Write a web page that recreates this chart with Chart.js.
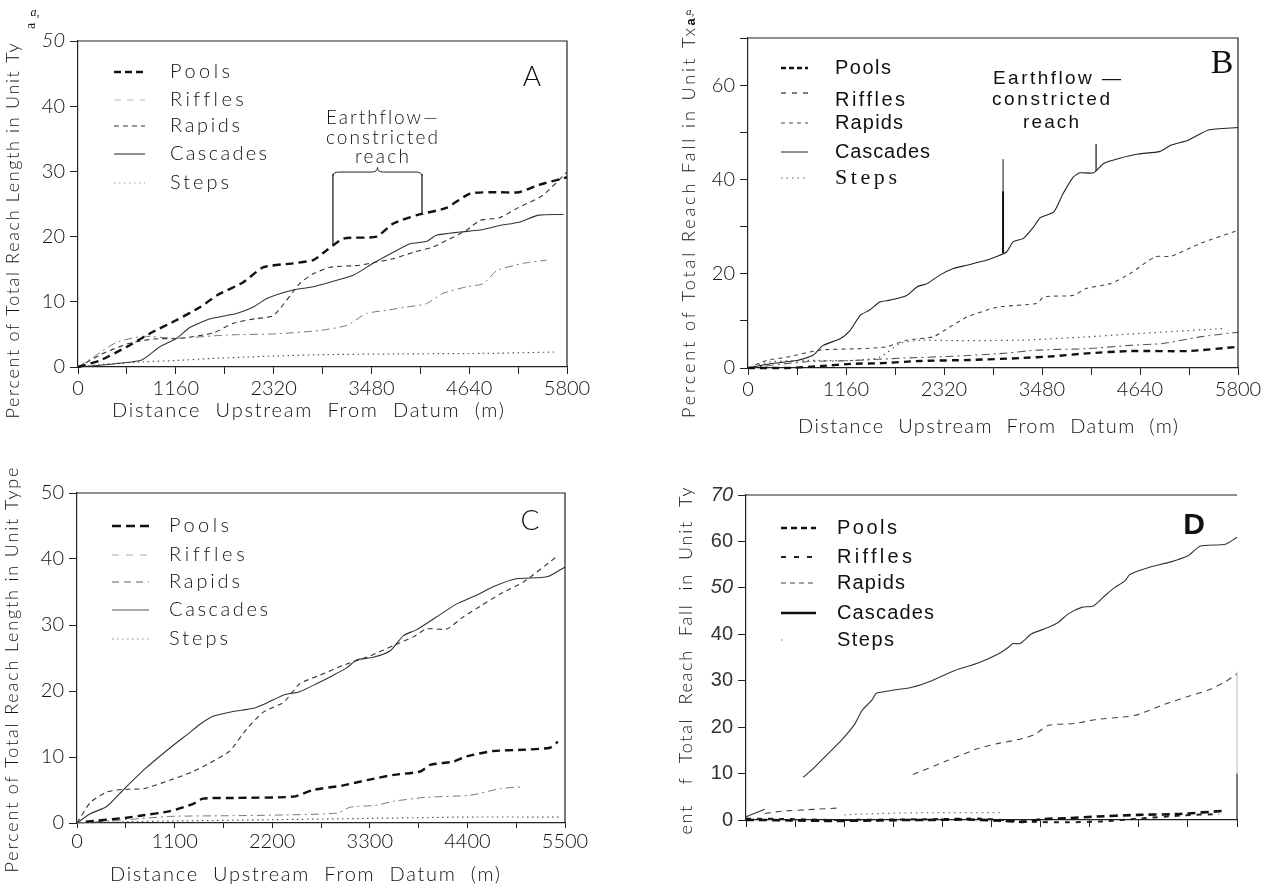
<!DOCTYPE html>
<html><head><meta charset="utf-8">
<script src="https://cdn.jsdelivr.net/npm/chart.js@4.4.0/dist/chart.umd.min.js"></script>
<style>
html,body{margin:0;padding:0;background:#fff;width:1270px;height:888px;overflow:hidden}
canvas{position:absolute}
</style></head><body>
<canvas id="cA" width="630" height="440" style="left:0px;top:0px"></canvas>
<canvas id="cB" width="640" height="440" style="left:630px;top:0px"></canvas>
<canvas id="cC" width="630" height="448" style="left:0px;top:440px"></canvas>
<canvas id="cD" width="640" height="448" style="left:630px;top:440px"></canvas>
<script>
// ---------- DATA ----------
const unitTypes = ['Pools','Riffles','Rapids','Cascades','Steps'];

// Panel A: % of total reach length (x: m upstream, y: %)
const poolsA = [[0,0],[260,1.0],[580,3.1],[890,5.4],[1170,7.2],[1450,9.2],[1650,11.0],[1960,13.0],[2200,15.3],[2550,15.9],[2790,16.4],[2950,17.9],[3150,19.7],[3540,20.0],[3740,22.0],[4020,23.3],[4370,24.4],[4650,26.6],[5000,26.8],[5230,26.8],[5460,27.9],[5800,29.1]];
const rifflesA = [[0,0],[180,1.5],[460,3.8],[770,4.7],[1170,4.4],[1760,4.9],[2360,5.1],[2870,5.6],[3190,6.4],[3420,8.2],[3660,8.7],[3900,9.2],[4130,9.7],[4330,11.3],[4610,12.3],[4810,12.8],[4970,14.8],[5280,15.9],[5560,16.4]];
const rapidsA = [[0,0],[300,2.1],[600,3.6],[900,4.3],[1210,4.4],[1600,5.2],[1840,6.7],[2100,7.4],[2320,7.9],[2630,12.8],[2790,14.3],[2990,15.3],[3340,15.6],[3540,16.1],[3740,16.6],[3980,17.6],[4210,18.4],[4370,19.4],[4610,21.0],[4770,22.5],[5000,22.9],[5230,24.5],[5510,26.3],[5800,29.9]];
const cascadesA = [[0,0],[740,1.0],[970,3.1],[1170,4.4],[1330,6.1],[1570,7.4],[1880,8.2],[2080,9.2],[2240,10.5],[2550,11.8],[2790,12.3],[3070,13.3],[3270,14.1],[3500,15.9],[3740,17.6],[3940,18.9],[4140,19.3],[4250,20.2],[4530,20.7],[4770,21.0],[5000,21.7],[5230,22.2],[5460,23.3],[5760,23.4]];
const stepsA = [[0,0],[380,0.5],[780,0.8],[1170,1.0],[1570,1.3],[1960,1.5],[2360,1.7],[2950,1.9],[3740,2.0],[4930,2.1],[5650,2.3]];

// Panel B: % of total reach fall
const poolsB = [[0,0],[460,0],[850,0.4],[1250,0.9],[1560,1.0],[2040,1.5],[2630,1.7],[3220,2.1],[3620,2.5],[4010,3.1],[4520,3.6],[5210,3.6],[5800,4.5]];
const rifflesB = [[0,0],[660,1.3],[1250,1.6],[1840,2.1],[2430,2.5],[3020,3.1],[3420,3.8],[4010,4.1],[4520,4.8],[4910,5.2],[5350,6.6],[5800,7.6]];
const rapidsB = [[0,0],[220,1.6],[460,2.3],[850,3.8],[1330,4.1],[1640,4.5],[1880,5.9],[2190,6.6],[2390,8.7],[2590,10.8],[2830,12.3],[2980,13.0],[3420,13.7],[3500,15.1],[3850,15.4],[4010,16.9],[4290,17.9],[4520,20.0],[4820,23.6],[5010,23.7],[5350,26.4],[5800,29.2]];
const cascadesB = [[0,0],[260,0.9],[580,1.6],[770,2.7],[890,4.8],[1090,6.2],[1210,8.0],[1330,11.2],[1440,12.3],[1560,14.0],[1680,14.4],[1880,15.4],[2000,17.2],[2120,17.9],[2270,19.7],[2430,21.1],[2590,21.8],[2830,22.9],[2950,23.7],[3060,24.6],[3140,26.8],[3260,27.5],[3380,29.9],[3460,31.9],[3620,33.1],[3730,37.0],[3850,40.5],[3930,41.4],[4090,41.4],[4210,43.4],[4400,44.5],[4620,45.4],[4870,45.9],[5010,47.3],[5210,48.3],[5450,50.5],[5800,51.0]];
const stepsB = [[0,0],[260,1.3],[660,1.6],[1250,1.6],[1560,2.3],[1800,5.2],[2040,5.9],[2430,5.8],[3220,5.9],[4010,6.6],[4520,7.2],[5650,8.4]];

// Panel C: % of total reach length
const poolsC = [[100,0.2],[560,0.8],[710,1.1],[1050,1.8],[1310,2.9],[1420,3.7],[1800,3.8],[2440,4.0],[2660,5.0],[3000,5.7],[3270,6.5],[3570,7.3],[3870,7.8],[3980,8.8],[4240,9.3],[4390,10.1],[4690,10.9],[5030,11.1],[5330,11.4],[5420,12.3]];
const rifflesC = [[0,0],[560,0.5],[1050,1.0],[1690,1.1],[2250,1.2],[2930,1.5],[3080,2.4],[3380,2.7],[3570,3.3],[3940,3.9],[4430,4.2],[4770,5.2],[5030,5.5]];
const rapidsC = [[0,0],[150,3.1],[335,4.7],[520,5.1],[750,5.2],[1050,6.5],[1310,7.8],[1500,9.1],[1720,10.9],[1910,14.2],[2100,16.8],[2330,18.3],[2510,21.1],[2740,22.4],[3000,23.9],[3300,25.3],[3570,26.9],[3790,28.2],[3940,29.4],[4170,29.4],[4350,31.2],[4540,32.8],[4770,34.7],[5030,36.5],[5420,40.5]];
const cascadesC = [[0,0],[150,1.4],[335,2.5],[520,5.0],[750,8.0],[1050,11.4],[1270,13.7],[1390,15.0],[1540,16.2],[1760,16.9],[1990,17.4],[2140,18.2],[2330,19.4],[2510,19.9],[2700,21.1],[2890,22.4],[3040,23.5],[3150,24.7],[3340,25.1],[3530,26.1],[3680,28.4],[3830,29.3],[4050,31.2],[4280,33.2],[4500,34.5],[4690,35.8],[4950,37.0],[5300,37.3],[5500,38.8]];
const stepsC = [[0,0],[600,0.2],[1100,0.3],[2200,0.5],[3300,0.7],[4400,0.9],[5450,0.9]];

// Panel D: % of total reach fall (null = break in the trace)
const poolsD = [[0,0],[500,-0.1],[1000,-0.2],[1500,-0.1],[2000,0],[2500,0.1],[2900,-0.2],[3100,-0.4],[3330,0.2],[3600,0.4],[3880,0.7],[4390,1.1],[4860,1.3],[5370,2.0]];
const rifflesD = [[0,0.3],[500,0.2],[1000,0],[1600,0.1],[2200,0.2],[2600,0.3],[2900,0],[3200,-0.4],[3600,-0.5],[4000,-0.3],[4400,0.3],[4900,1.0],[5300,1.3]];
const rapidsD = [[210,1.4],[400,1.9],[770,2.3],[1050,2.6],[1060,null],[1870,9.8],[2270,12.9],[2600,15.4],[2830,16.5],[3090,17.5],[3240,18.5],[3390,20.4],[3690,20.8],[3910,21.6],[4280,22.3],[4390,22.7],[4715,25.1],[4950,26.6],[5180,28.0],[5365,29.7],[5500,31.5]];
const cascadesD = [[0,0.7],[210,2.3],[220,null],[640,9.2],[770,11.4],[920,14.3],[1070,17.2],[1220,20.7],[1300,23.6],[1410,25.8],[1460,27.3],[1630,27.9],[1860,28.6],[2080,30.0],[2340,32.2],[2600,33.8],[2830,35.8],[2940,37.2],[2990,38.0],[3070,38.0],[3200,40.1],[3390,41.5],[3500,42.6],[3610,44.4],[3760,45.8],[3890,46.1],[4020,48.3],[4130,50.1],[4245,51.5],[4300,52.9],[4530,54.5],[4760,55.6],[4950,56.9],[5090,59.0],[5370,59.4],[5500,60.9]];
const stepsD = [[1100,1.1],[1500,1.4],[2100,1.6],[2850,1.6]];

// Ticks
const xTicks5800 = [0,580,1160,1740,2320,2900,3480,4060,4640,5220,5800];
const xLabels5800 = [0,1160,2320,3480,4640,5800];
const xTicks5500 = [0,550,1100,1650,2200,2750,3300,3850,4400,4950,5500];
const xLabels5500 = [0,1100,2200,3300,4400,5500];
const yTicks50 = [0,10,20,30,40,50];
const yTicks70 = [0,10,20,30,40,50,60,70];
const yLabelsB = [0,20,40,60];

// ---------- DRAWING ----------
const THIN = "Lato, 'DejaVu Sans', sans-serif";
const ARIAL = "'Liberation Sans', Arial, sans-serif";
const SERIF = "'Liberation Serif', 'Times New Roman', serif";
const INK = '#111';

function fitText(ctx, t, x, y, w, font, rot, color, align) {
  ctx.save();
  ctx.font = font;
  ctx.fillStyle = color || INK;
  try { ctx.letterSpacing = '0px'; } catch(e) {}
  const w0 = ctx.measureText(t).width;
  let ls = 0;
  if (w && t.length > 1) ls = (w - w0) / (t.length - 1);
  try { ctx.letterSpacing = ls + 'px'; } catch(e) {}
  ctx.translate(x, y);
  if (rot) ctx.rotate(rot);
  ctx.textBaseline = 'middle';
  ctx.textAlign = 'left';
  const tw = w ? w : w0;
  const sx = align === 'left' ? 0 : -tw / 2;
  ctx.fillText(t, sx, 0);
  ctx.restore();
}

const deco = {
  id: 'deco',
  afterDraw(chart, args, o) {
    const ctx = chart.ctx, ca = chart.chartArea;
    const xs = chart.scales.x, ys = chart.scales.y;
    const ox = o.ox, oy = o.oy;
    // frame (top + right)
    ctx.save();
    ctx.strokeStyle = '#222'; ctx.lineWidth = 1.2;
    ctx.beginPath(); ctx.moveTo(ca.left, ca.top); ctx.lineTo(ca.right, ca.top);
    if (o.frame === 'partial') {
      ctx.stroke();
      ctx.beginPath(); ctx.moveTo(ca.right, ys.getPixelForValue(10)); ctx.lineTo(ca.right, ca.bottom); ctx.stroke();
      ctx.strokeStyle = '#bbb'; ctx.lineWidth = 1;
      ctx.beginPath(); ctx.moveTo(ca.right, ys.getPixelForValue(32)); ctx.lineTo(ca.right, ys.getPixelForValue(10)); ctx.stroke();
    } else {
      ctx.lineTo(ca.right, ca.bottom); ctx.stroke();
    }
    ctx.restore();
    // legend
    const L = o.legend;
    chart.data.datasets.forEach((ds, i) => {
      const y = L.ys[i] - oy;
      ctx.save();
      ctx.strokeStyle = (L.colors && L.colors[i]) || ds.borderColor;
      ctx.lineWidth = (L.widths2 && L.widths2[i]) || ds.borderWidth;
      ctx.setLineDash((L.dash && L.dash[i]) || ds.borderDash || []);
      const sy = y + ((L.dy && L.dy[i]) || 0);
      ctx.beginPath(); ctx.moveTo(L.x0 - ox, sy); ctx.lineTo(L.x1 - ox, sy); ctx.stroke();
      ctx.restore();
      const f = (L.fonts && L.fonts[i]) || L.font;
      fitText(ctx, ds.label, L.tx - ox, y, L.tw[i], f, 0, L.tcolor, 'left');
    });
    // texts
    (o.texts || []).forEach(T => fitText(ctx, T.t, T.x - ox, T.y - oy, T.w, T.font, T.rot, T.color, T.align));
    // annotation marks in data coordinates
    (o.marks || []).forEach(m => {
      ctx.save(); ctx.strokeStyle = '#111'; ctx.lineWidth = m.w || 1.2;
      const px = xs.getPixelForValue(m.x);
      ctx.beginPath(); ctx.moveTo(px, ys.getPixelForValue(m.y0)); ctx.lineTo(px, ys.getPixelForValue(m.y1)); ctx.stroke();
      ctx.restore();
    });
    if (o.bracket) {
      const b = o.bracket;
      const x0 = xs.getPixelForValue(b.x0), x1 = xs.getPixelForValue(b.x1), xm = (x0 + x1) / 2;
      const y = ys.getPixelForValue(b.y), yp = ys.getPixelForValue(b.peak);
      ctx.save(); ctx.strokeStyle = '#222'; ctx.lineWidth = 1;
      ctx.beginPath();
      ctx.moveTo(x0, y + 4); ctx.quadraticCurveTo(x0, y, x0 + 6, y);
      ctx.lineTo(xm - 6, y); ctx.quadraticCurveTo(xm, y, xm, yp);
      ctx.quadraticCurveTo(xm, y, xm + 6, y);
      ctx.lineTo(x1 - 6, y); ctx.quadraticCurveTo(x1, y, x1, y + 4);
      ctx.stroke(); ctx.restore();
    }
  }
};

function styleSet(arr, st) {
  return arr.map((d, i) => ({
    label: unitTypes[i],
    data: d.map(p => ({x: p[0], y: p[1]})),
    borderColor: st[i].c, borderWidth: st[i].w, borderDash: st[i].d,
    pointRadius: 0, tension: 0.2, fill: false, spanGaps: false, clip: 6
  }));
}

function makeChart(id, cfg) {
  return new Chart(document.getElementById(id), {
    type: 'line',
    data: {datasets: styleSet(cfg.series, cfg.styles)},
    options: {
      responsive: false, animation: false, devicePixelRatio: 1,
      layout: {padding: {top: cfg.top, right: cfg.right, left: 0, bottom: 0}},
      plugins: {legend: {display: false}, tooltip: {enabled: false}, deco: cfg.deco},
      scales: {
        x: {
          type: 'linear', min: 0, max: cfg.xTicks[cfg.xTicks.length - 1],
          afterBuildTicks: s => { s.ticks = cfg.xTicks.map(v => ({value: v})); },
          afterFit: s => { s.height = cfg.xh; },
          ticks: {autoSkip: false, maxRotation: 0, minRotation: 0, padding: cfg.xpad || 3,
            callback: v => cfg.xLabels.includes(v) ? String(v) : '',
            font: {family: THIN, size: 20, weight: 300}, color: INK},
          grid: {drawOnChartArea: false, tickLength: cfg.xtl || 7, color: '#222', lineWidth: 1},
          border: {color: '#222', width: 1.2}
        },
        y: {
          type: 'linear', min: 0, max: cfg.yTicks[cfg.yTicks.length - 1],
          afterBuildTicks: s => { s.ticks = cfg.yTicks.map(v => ({value: v})); },
          afterFit: s => { s.width = cfg.left; },
          ticks: {autoSkip: false, padding: 5,
            callback: v => cfg.yLabels.includes(v) ? String(v) : '',
            font: c => ({family: cfg.yFont || THIN, size: 20, weight: cfg.yWeight || 300,
              style: (cfg.italic || []).includes(c.tick && c.tick.value) ? 'italic' : 'normal'}),
            color: cfg.yColor || INK},
          grid: {drawOnChartArea: false, tickLength: 8, color: '#222', lineWidth: 1},
          border: {color: '#222', width: 1.2}
        }
      }
    },
    plugins: [deco]
  });
}

const stLen = [
  {c: '#111', w: 2.4, d: [8, 5]},
  {c: '#777', w: 1, d: [8, 4, 2, 4]},
  {c: '#333', w: 1.1, d: [5, 4]},
  {c: '#333', w: 1.1, d: []},
  {c: '#555', w: 1.2, d: [1.5, 3.5]}
];
const stB = [
  {c: '#111', w: 2.4, d: [7, 5]},
  {c: '#555', w: 1.1, d: [8, 4, 2, 4]},
  {c: '#444', w: 1.1, d: [4, 4]},
  {c: '#222', w: 1.1, d: []},
  {c: '#555', w: 1.2, d: [1.5, 4]}
];
const stD = [
  {c: '#111', w: 2.6, d: [8, 5]},
  {c: '#222', w: 2, d: [5, 6]},
  {c: '#444', w: 1.1, d: [6, 5]},
  {c: '#333', w: 1.1, d: []},
  {c: '#777', w: 1.2, d: [1.5, 4]}
];

const thinF = s => '300 ' + s + 'px ' + THIN;
const arialF = s => s + 'px ' + ARIAL;

// Panel A
makeChart('cA', {
  series: [poolsA, rifflesA, rapidsA, cascadesA, stepsA], styles: stLen,
  xTicks: xTicks5800, xLabels: xLabels5800, yTicks: yTicks50, yLabels: yTicks50,
  left: 78, right: 630 - 567, top: 41, xh: 440 - 367, italic: [50],
  deco: {ox: 0, oy: 0,
    legend: {x0: 114, x1: 145, tx: 170, ys: [72, 100, 126, 154, 183], font: thinF(20), tw: [60, 73, 70, 97, 59],
      colors: [null, '#bbb', null, null, '#999'], dash: [[7, 4], [7, 6], [5, 4], [], [1.5, 3.5]]},
    texts: [
      {t: 'A', x: 532, y: 77, font: '300 28px ' + THIN},
      {t: 'Earthflow\u2014', x: 382, y: 118, w: 112, font: thinF(19)},
      {t: 'constricted', x: 382, y: 138, w: 112, font: thinF(19)},
      {t: 'reach', x: 382, y: 157, w: 54, font: thinF(19)},
      {t: 'Percent of Total Reach Length in Unit Ty', x: 13, y: 231, w: 375, font: thinF(18), rot: -Math.PI / 2},
      {t: 'a,', x: 35, y: 13, font: 'italic 12px ' + SERIF},
      {t: 'a', x: 31, y: 26, font: '14px ' + SERIF, rot: -Math.PI / 2},
      {t: 'Distance  Upstream  From  Datum  (m)', x: 308, y: 411, w: 392, font: thinF(20)}
    ],
    marks: [{x: 3024, y0: 18.7, y1: 29.6}, {x: 4080, y0: 23.6, y1: 29.6}],
    bracket: {x0: 3024, x1: 4080, y: 29.9, peak: 30.6}
  }
});

// Panel B
makeChart('cB', {
  series: [poolsB, rifflesB, rapidsB, cascadesB, stepsB], styles: stB,
  xTicks: xTicks5800, xLabels: xLabels5800, yTicks: yTicks70, yLabels: yLabelsB,
  left: 748 - 630, right: 640 - (1238 - 630), top: 38, xh: 440 - 368,
  deco: {ox: 630, oy: 0,
    legend: {x0: 781, x1: 808, tx: 835, ys: [68, 100, 123, 152, 178], font: arialF(20), tw: [56, 70, 68, 95, 62],
      fonts: [null, null, null, null, '22px ' + SERIF], dy: [0, -7, 0, 0, 0],
      dash: [[5, 3], [5, 6], [4, 4], [], [1.5, 4]], widths2: [2.4, 1.6, 1, 1, 1.2]},
    texts: [
      {t: 'B', x: 1222, y: 64, font: '34px ' + SERIF},
      {t: 'Earthflow \u2014', x: 1057, y: 79, w: 128, font: arialF(19)},
      {t: 'constricted', x: 1051, y: 100, w: 118, font: arialF(19)},
      {t: 'reach', x: 1051, y: 123, w: 56, font: arialF(19)},
      {t: 'Percent of Total Reach Fall in Unit Tx', x: 689, y: 223, w: 390, font: thinF(18), rot: -Math.PI / 2},
      {t: 'a,', x: 690, y: 12, font: 'italic 11px ' + SERIF},
      {t: 'a', x: 691, y: 22, font: 'bold 13px ' + ARIAL, rot: -Math.PI / 2},
      {t: 'Distance  Upstream  From  Datum  (m)', x: 988, y: 427, w: 380, font: thinF(20)}
    ],
    marks: [{x: 3019, y0: 24.4, y1: 37.5, w: 2}, {x: 3019, y0: 37.5, y1: 44.3, w: 1}, {x: 4120, y0: 41.8, y1: 47.5, w: 1.2}]
  }
});

// Panel C
makeChart('cC', {
  series: [poolsC, rifflesC, rapidsC, cascadesC, stepsC], styles: stLen,
  xTicks: xTicks5500, xLabels: xLabels5500, yTicks: yTicks50, yLabels: yTicks50,
  left: 77, right: 630 - 565, top: 493 - 440, xh: 448 - (823 - 440), xtl: 5, xpad: 2,
  deco: {ox: 0, oy: 440,
    legend: {x0: 112, x1: 149, tx: 169, ys: [526, 555, 582, 610, 639], font: thinF(20), tw: [60, 75, 71, 99, 59],
      colors: [null, '#aaa', '#666', '#555', '#888'], dash: [[9, 5], [7, 7], [7, 5], [], [1.5, 3.5]]},
    texts: [
      {t: 'C', x: 530, y: 521, font: '300 28px ' + THIN},
      {t: 'Percent of Total Reach Length in Unit Type', x: 12, y: 670, w: 405, font: thinF(18), rot: -Math.PI / 2},
      {t: 'Distance  Upstream  From  Datum  (m)', x: 305, y: 875, w: 390, font: thinF(20)}
    ]
  }
});

// Panel D
makeChart('cD', {
  series: [poolsD, rifflesD, rapidsD, cascadesD, stepsD], styles: stD,
  xTicks: xTicks5500, xLabels: [], yTicks: yTicks70, yLabels: yTicks70,
  left: 746 - 630, right: 640 - (1237 - 630), top: 495 - 440, xh: 448 - (820 - 440),
  yFont: ARIAL, yWeight: 400, yColor: '#333', italic: [70, 50],
  deco: {ox: 630, oy: 440, frame: 'partial',
    legend: {x0: 781, x1: 816, tx: 837, ys: [528, 557, 583, 613, 640], font: arialF(20), tw: [60, 75, 68, 97, 57],
      dash: [[6, 4], [5, 8], [5, 4], [], [1.5, 40]], widths2: [2.6, 2.2, 1, 2.6, 1.5], colors: [null, null, null, '#111', '#aaa'],
      fonts: [null, null, null, null, null]},
    texts: [
      {t: 'D', x: 1194, y: 526, font: 'bold 30px ' + ARIAL},
      {t: 'ent   f  Total  Reach  Fall  in  Unit  Ty', x: 686, y: 661, w: 347, font: thinF(18), rot: -Math.PI / 2}
    ]
  }
});
</script>
</body></html>
